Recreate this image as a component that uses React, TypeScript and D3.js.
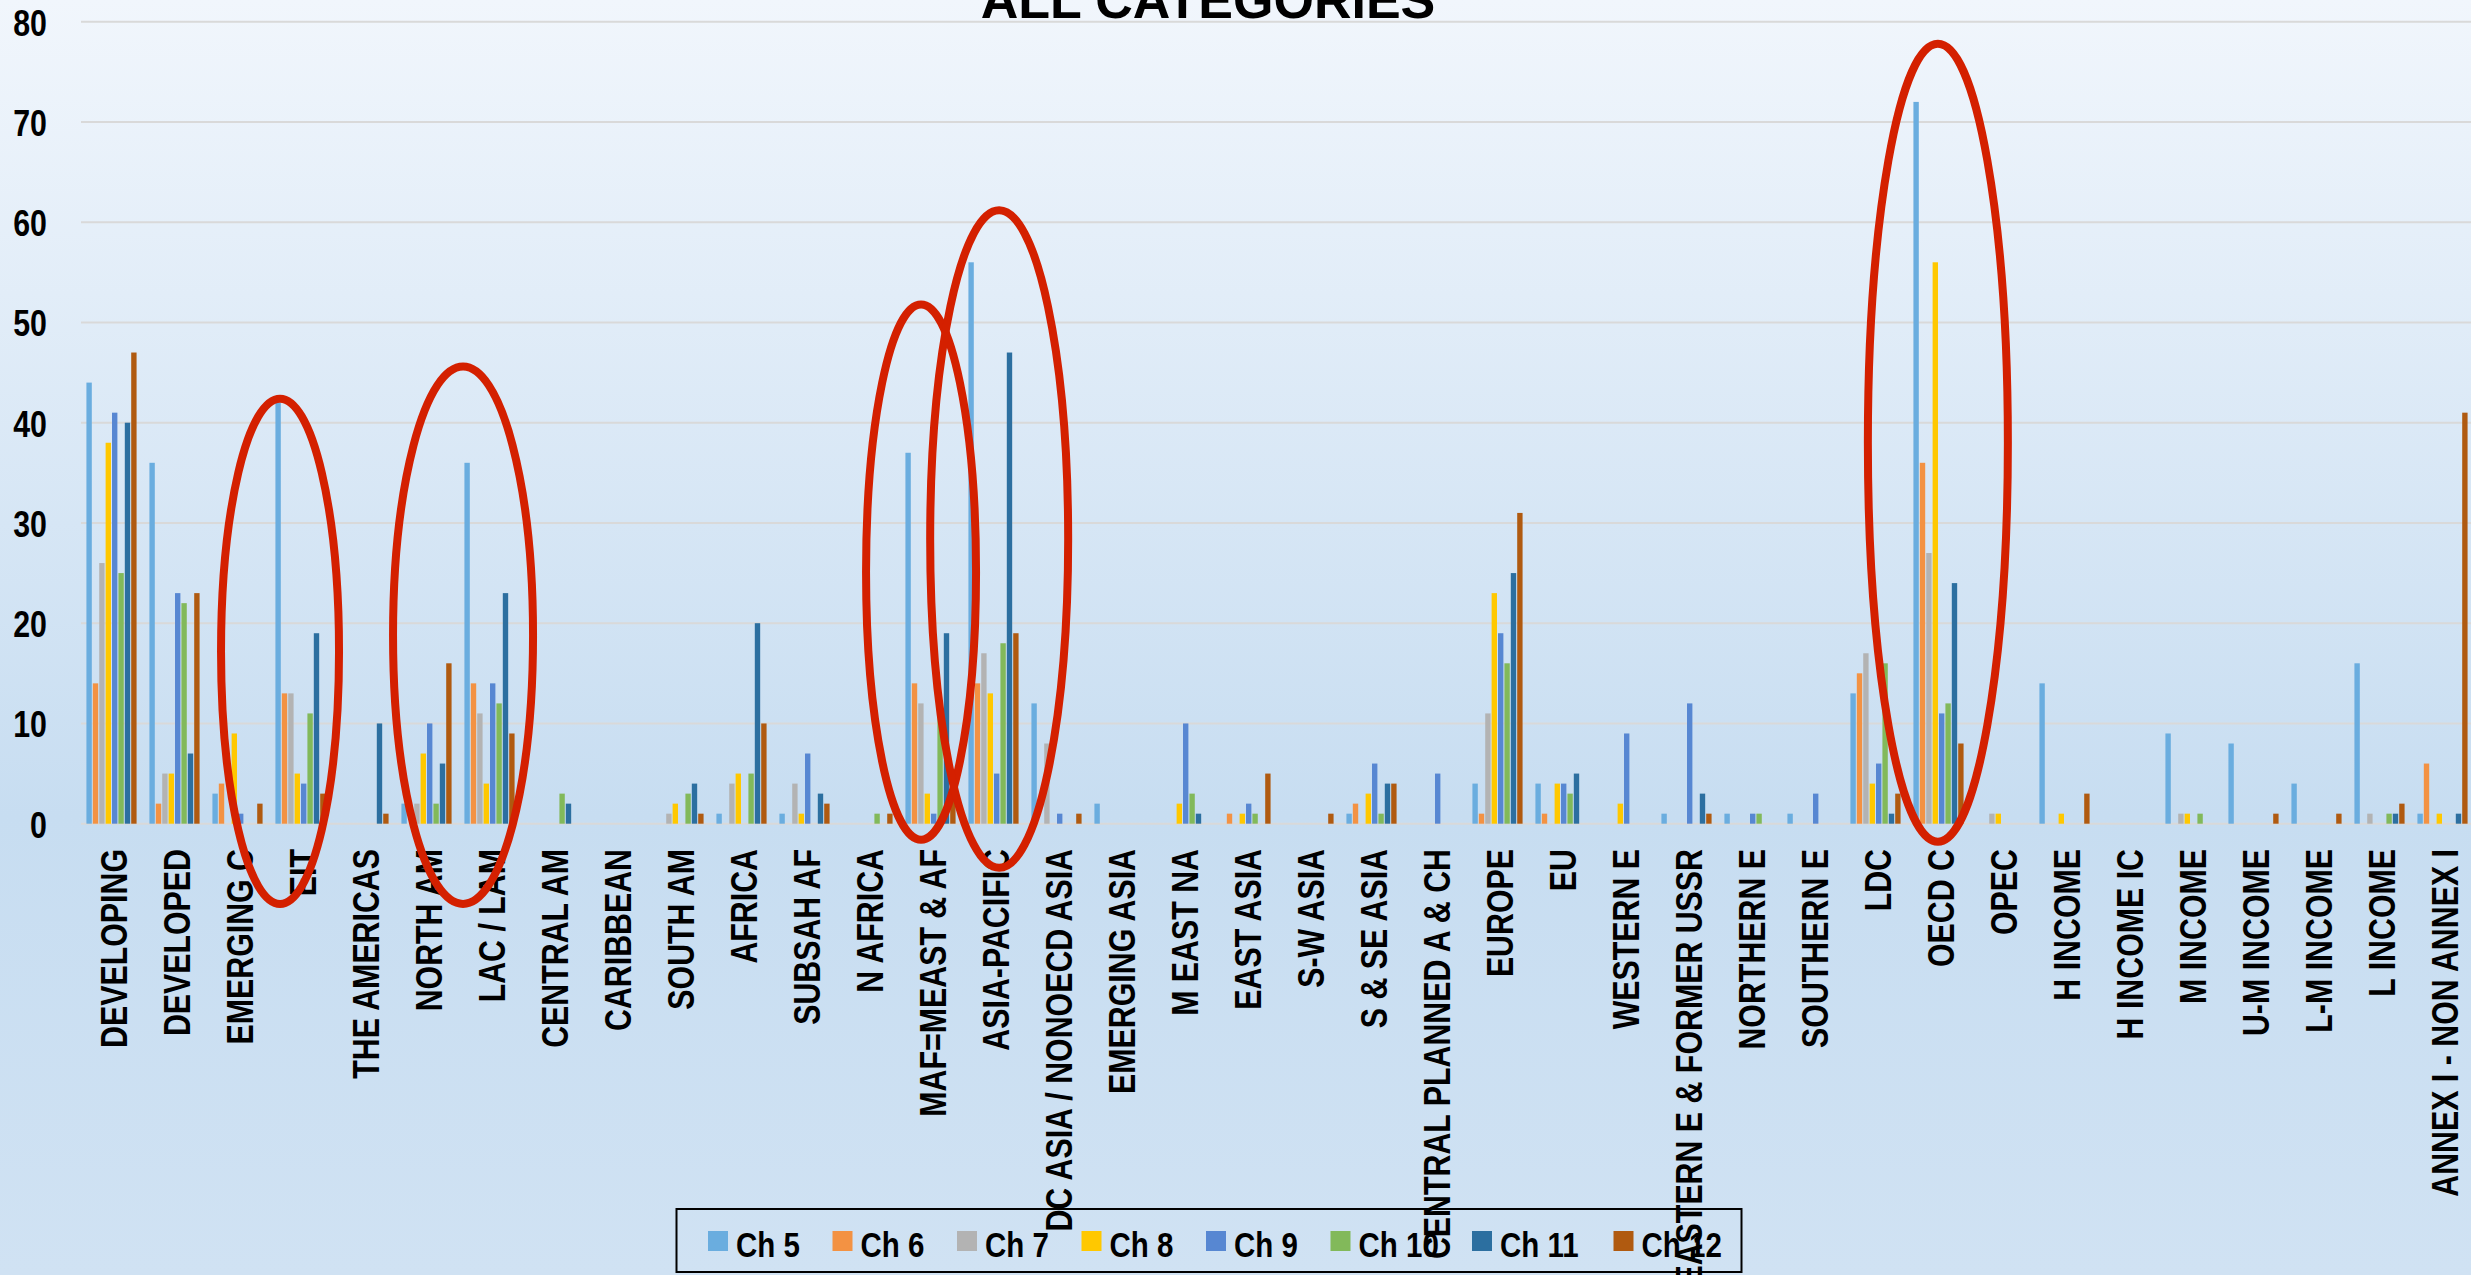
import * as d3 from "d3";

// categories along the x axis
const categories = [
  "DEVELOPING", "DEVELOPED", "EMERGING C", "EIT", "THE AMERICAS", "NORTH AM", "LAC / LAM",
  "CENTRAL AM", "CARIBBEAN", "SOUTH AM", "AFRICA", "SUBSAH AF", "N AFRICA", "MAF=MEAST & AF",
  "ASIA-PACIFIC", "DC ASIA / NONOECD ASIA", "EMERGING ASIA", "M EAST NA", "EAST ASIA", "S-W ASIA",
  "S & SE ASIA", "CENTRAL PLANNED A & CH", "EUROPE", "EU", "WESTERN E", "EASTERN E & FORMER USSR",
  "NORTHERN E", "SOUTHERN E", "LDC", "OECD C", "OPEC", "H INCOME", "H INCOME IC", "M INCOME",
  "U-M INCOME", "L-M INCOME", "L INCOME", "ANNEX I - NON ANNEX I",
];

const seriesNames = ["Ch 5", "Ch 6", "Ch 7", "Ch 8", "Ch 9", "Ch 10", "Ch 11", "Ch 12"];
const seriesColors = ["#6aaddf", "#f39243", "#b3b3b3", "#ffc800", "#5787d2", "#82b95a", "#2c6fa0", "#b05a10"];

// one value per category, same order as categories
const ch5 = [44, 36, 3, 42, 0, 2, 36, 0, 0, 0, 1, 1, 0, 37, 56, 12, 2, 0, 0, 0, 1, 0, 4, 4, 0, 1, 1, 1, 13, 72, 0, 14, 0, 9, 8, 4, 16, 1];
const ch6 = [14, 2, 4, 13, 0, 0, 14, 0, 0, 0, 0, 0, 0, 14, 14, 0, 0, 0, 1, 0, 2, 0, 1, 1, 0, 0, 0, 0, 15, 36, 0, 0, 0, 0, 0, 0, 0, 6];
const ch7 = [26, 5, 0, 13, 0, 2, 11, 0, 0, 1, 4, 4, 0, 12, 17, 8, 0, 0, 0, 0, 0, 0, 11, 0, 0, 0, 0, 0, 17, 27, 1, 0, 0, 1, 0, 0, 1, 0];
const ch8 = [38, 5, 9, 5, 0, 7, 4, 0, 0, 2, 5, 1, 0, 3, 13, 0, 0, 2, 1, 0, 3, 0, 23, 4, 2, 0, 0, 0, 4, 56, 1, 1, 0, 1, 0, 0, 0, 1];
const ch9 = [41, 23, 1, 4, 0, 10, 14, 0, 0, 0, 0, 7, 0, 1, 5, 1, 0, 10, 2, 0, 6, 5, 19, 4, 9, 12, 1, 3, 6, 11, 0, 0, 0, 0, 0, 0, 0, 0];
const ch10 = [25, 22, 0, 11, 0, 2, 12, 3, 0, 3, 5, 0, 1, 11, 18, 0, 0, 3, 1, 0, 1, 0, 16, 3, 0, 0, 1, 0, 16, 12, 0, 0, 0, 1, 0, 0, 1, 0];
const ch11 = [40, 7, 0, 19, 10, 6, 23, 2, 0, 4, 20, 3, 0, 19, 47, 0, 0, 1, 0, 0, 4, 0, 25, 5, 0, 3, 0, 0, 1, 24, 0, 0, 0, 0, 0, 0, 1, 1];
const ch12 = [47, 23, 2, 3, 1, 16, 9, 0, 0, 1, 10, 2, 1, 3, 19, 1, 0, 0, 5, 1, 4, 0, 31, 0, 0, 1, 0, 0, 3, 8, 0, 3, 0, 0, 1, 1, 2, 41];
const seriesValues = [ch5, ch6, ch7, ch8, ch9, ch10, ch11, ch12];

const yTicks = [0, 10, 20, 30, 40, 50, 60, 70, 80];

// red hand-drawn rings: category, offset in bands, centre value, half height in value units, half width px
const rings = [
  { cat: "EIT", off: 0.175, cy: 17.2, ry: 25.2, rx: 59 },
  { cat: "LAC / LAM", off: 0.08, cy: 18.8, ry: 26.8, rx: 70 },
  { cat: "MAF=MEAST & AF", off: 0.35, cy: 25.1, ry: 26.7, rx: 55 },
  { cat: "ASIA-PACIFIC", off: 0.59, cy: 28.4, ry: 32.8, rx: 69 },
  { cat: "OECD C", off: 0.49, cy: 38.0, ry: 39.8, rx: 70 },
];

const W = 2471;
const H = 1275;
// no narrow font installed: squeeze Liberation Sans bold horizontally
const font = "'Liberation Sans', Arial, sans-serif";
const SQ = 0.82;

export default function App() {
  const x = d3.scaleBand().domain(categories).range([80, 80 + 63 * categories.length]);
  const xs = d3.scaleBand().domain(seriesNames).range([5.4, x.step() - 5.4]).padding(0.16);
  const y = d3.scaleLinear().domain([0, 80]).range([823.7, 21.7]);

  // legend item offsets
  const itemW = seriesNames.map((s) => (s.length > 4 ? 141.5 : 124.5));
  const legendX = [0, ...d3.cumsum(itemW)].map((d) => 708 + d);

  return (
    <div style={{ position: "absolute", left: 0, top: 0 }}>
      <svg width={W} height={H} style={{ display: "block" }}>
        <defs>
          <linearGradient id="bg" x1="0" y1="0" x2="0" y2="1">
            <stop offset="0" stopColor="#f1f6fc" />
            <stop offset="0.64" stopColor="#c7ddf1" />
            <stop offset="1" stopColor="#d0e2f3" />
          </linearGradient>
        </defs>
        <rect x={0} y={0} width={W} height={H} fill="url(#bg)" />

        {/* gridlines + y labels */}
        {yTicks.map((t) => (
          <g key={t}>
            <line x1={81} x2={W} y1={y(t)} y2={y(t)} stroke="#d9d9d9" strokeWidth={2} />
            <text
              transform={`translate(47,${y(t) + 14}) scale(${SQ},1)`}
              textAnchor="end"
              fontFamily={font}
              fontWeight="bold"
              fontSize={37}
            >
              {t}
            </text>
          </g>
        ))}

        {/* bars */}
        {seriesValues.map((vals, si) => (
          <g key={si} fill={seriesColors[si]}>
            {vals.map((v, i) =>
              v > 0 ? (
                <rect
                  key={i}
                  x={x(categories[i])! + xs(seriesNames[si])!}
                  y={y(v)}
                  width={xs.bandwidth()}
                  height={y(0) - y(v)}
                />
              ) : null
            )}
          </g>
        ))}

        {/* title, cut off at top */}
        <text x={1208} y={18} textAnchor="middle" fontFamily={font} fontWeight="bold" fontSize={52}>
          ALL CATEGORIES
        </text>

        {/* legend */}
        <rect x={676.5} y={1209} width={1065} height={63} fill="none" stroke="#000" strokeWidth={2} />
        {seriesNames.map((s, i) => (
          <g key={s}>
            <rect x={legendX[i]} y={1231} width={20} height={20} fill={seriesColors[i]} />
            <text
              transform={`translate(${legendX[i] + 28},1257) scale(${SQ},1)`}
              fontFamily={font}
              fontWeight="bold"
              fontSize={36}
            >
              {s}
            </text>
          </g>
        ))}

        {/* category labels */}
        {categories.map((c) => {
          const cx = x(c)! + x.bandwidth() / 2 + 15;
          return (
            <text
              key={c}
              transform={`translate(${cx},849) rotate(-90) scale(${SQ},1)`}
              textAnchor="end"
              fontFamily={font}
              fontWeight="bold"
              fontSize={37}
            >
              {c}
            </text>
          );
        })}

        {/* red rings */}
        {rings.map((r, i) => (
          <ellipse
            key={i}
            cx={x(r.cat)! + x.bandwidth() * r.off}
            cy={y(r.cy)}
            rx={r.rx}
            ry={y(0) - y(r.ry)}
            fill="none"
            stroke="#d42000"
            strokeWidth={8}
          />
        ))}
      </svg>
    </div>
  );
}
